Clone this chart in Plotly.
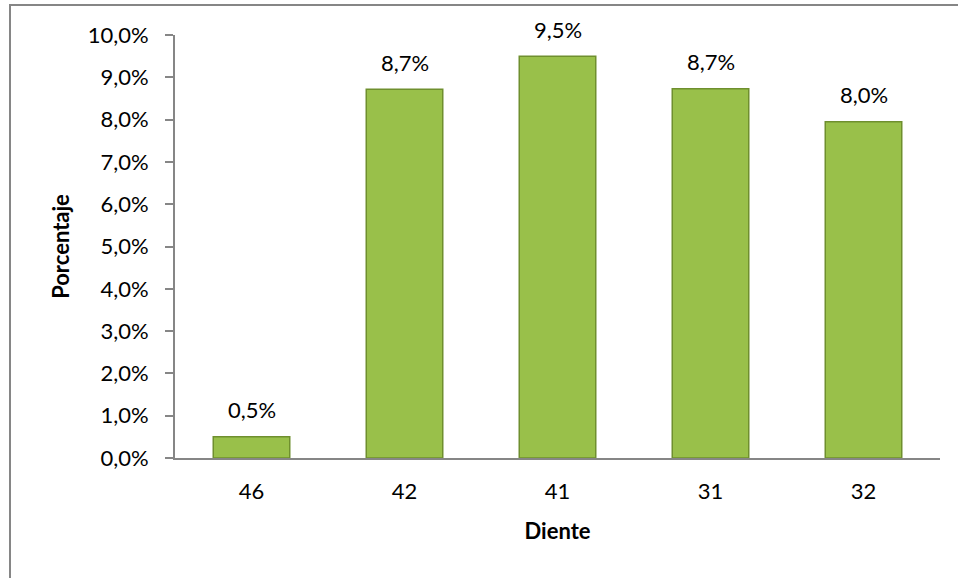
import plotly.graph_objects as go

categories = ["46", "42", "41", "31", "32"]
values = [0.005, 0.0872, 0.095, 0.0873, 0.0795]
y_ticks = [i / 100 for i in range(0, 11)]

FONT = "Lato"
FS = 22
BAR_FILL = "#99c04a"
BAR_LINE = "#6f8f2e"
AXIS_GRAY = "#868686"

fig = go.Figure()
fig.add_trace(go.Bar(
    x=categories, y=values, width=0.5,
    marker=dict(color=BAR_FILL, line=dict(color=BAR_LINE, width=1.5)),
    hoverinfo="skip",
))

for i, v in enumerate(values):
    fig.add_annotation(x=i, y=v, xref="x", yref="y",
                       text=f"{v*100:.1f}%".replace(".", ","),
                       showarrow=False, yshift=27, yanchor="middle",
                       font=dict(family=FONT, size=FS, color="#000"))

fig.update_layout(
    width=958, height=578,
    margin=dict(l=175, r=18, t=35, b=120),
    paper_bgcolor="white", plot_bgcolor="white",
    separators=",.",
    showlegend=False,
    font=dict(family=FONT, size=FS, color="#000"),
    xaxis=dict(
        type="category", showline=True, linecolor=AXIS_GRAY, linewidth=2,
        ticks="", showgrid=False, tickfont=dict(size=FS),
        range=[-0.5, 4.5],
        ticklabelstandoff=13,
        title=dict(text="<b>Diente</b>", font=dict(size=FS), standoff=20),
    ),
    yaxis=dict(
        range=[0, 0.1], tickvals=y_ticks, tickformat=".1%",
        showline=True, linecolor=AXIS_GRAY, linewidth=2,
        ticks="outside", ticklen=8, tickcolor=AXIS_GRAY, tickwidth=2,
        ticklabelstandoff=12,
        showgrid=False, zeroline=False, tickfont=dict(size=FS),
        title=dict(text="<b>Porcentaje</b>", font=dict(size=FS), standoff=12),
    ),
    shapes=[dict(type="rect", xref="paper", yref="paper",
                 x0=(10 - 175) / 765, x1=1.2, y0=-0.5, y1=(458 - 5) / 423,
                 line=dict(color=AXIS_GRAY, width=2), fillcolor="rgba(0,0,0,0)",
                 layer="below")],
)

fig.write_html("out.html")
